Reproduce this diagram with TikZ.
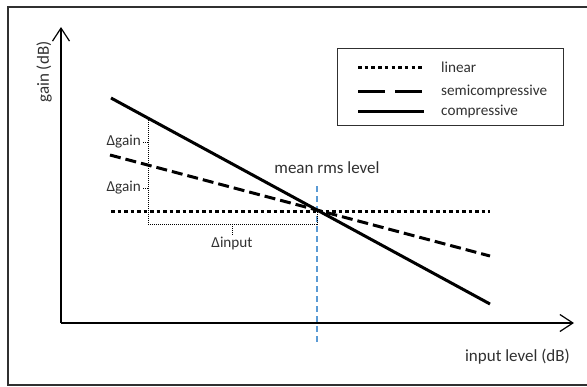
\documentclass[tikz,border=0pt]{standalone}
\usepackage{fontspec}
\setmainfont{Carlito}
\usetikzlibrary{arrows.meta}
\definecolor{txt}{HTML}{303030}
\definecolor{rmsblue}{HTML}{5B9BD5}
\tikzset{
 lbl/.style={font=\fontsize{15.2}{18}\selectfont, text=txt, inner sep=0pt},
 biglbl/.style={font=\fontsize{17}{20}\selectfont, text=txt, inner sep=0pt},
 axis/.style={line width=1.2pt, -{Straight Barb[length=13pt,width=17pt]}},
 linear/.style={line width=3pt, dash pattern=on 3.5pt off 3pt},
 semi/.style={line width=3pt, dash pattern=on 11pt off 5pt},
 comp/.style={line width=3pt},
 guide/.style={line width=0.8pt, dash pattern=on 1pt off 1pt},
 rms/.style={line width=1.5pt, rmsblue, dash pattern=on 6pt off 4pt},
}
\begin{document}
\begin{tikzpicture}[x=1pt,y=-1pt]
\clip (0,0) rectangle (587,386);
\draw[line width=2pt, draw=txt] (8,7) rectangle (600,385);
% axes
\coordinate (O) at (61,323);
\coordinate (ytop) at (61,27);
\coordinate (xend) at (574,323);
\draw[axis] (O) -- (ytop);
\draw[axis] (O) -- (xend);
\node[biglbl, rotate=90] (ylab) at (44,72) {gain (dB)};
\node[biglbl, anchor=east] (xlab) at (570,357) {input level (dB)};
% rms line
\coordinate (B1) at (317,186);
\coordinate (B2) at (317,342);
\draw[rms] (B1) -- (B2);
\node[biglbl] (rmslab) at (327,168) {mean rms level};
% curves
\coordinate (L1) at (111,211); \coordinate (L2) at (490,211);
\coordinate (S1) at (110,155); \coordinate (S2) at (490,256);
\coordinate (C1) at (111,98);  \coordinate (C2) at (490,304);
\coordinate (M) at (317,211);
\draw[linear] (L1) -- (L2);
\draw[semi] (S1) -- (S2);
\draw[comp] (C1) -- (C2);
% guides
\coordinate (G1) at (148,118);
\coordinate (G2) at (148,224);
\coordinate (G3) at (317,224);
\draw[guide] (G1) -- (G2) -- (G3) -- (M);
\node[lbl, anchor=east] (dg1) at (141,142) {Δgain};
\node[lbl, anchor=east] (dg2) at (141,188) {Δgain};
\coordinate (t1) at (148,142);
\coordinate (t2) at (148,188);
\draw[guide] ([xshift=2pt]dg1.east) -- (t1);
\draw[guide] ([xshift=2pt]dg2.east) -- (t2);
\node[lbl] (din) at (232,243) {Δinput};
\coordinate (t3) at (232,224);
\draw[guide] (t3) -- ([yshift=1pt]din.north);
% legend
\node[draw=txt, line width=1pt, minimum width=226pt, minimum height=77pt, inner sep=0pt] (leg) at (450,86.5) {};
\coordinate (la1) at (358,67);  \coordinate (la2) at (424,67);
\coordinate (lb1) at (358,91);  \coordinate (lb2) at (424,91);
\coordinate (lc1) at (358,111); \coordinate (lc2) at (424,111);
\draw[line width=3pt, dash pattern=on 3.5pt off 3.2pt] (la1) -- (la2);
\draw[line width=3pt, dash pattern=on 27pt off 10pt] (lb1) -- (lb2);
\draw[comp] (lc1) -- (lc2);
\node[lbl, anchor=west] (ta) at (441,67) {linear};
\node[lbl, anchor=west] (tb) at (441,91) {semicompressive};
\node[lbl, anchor=west] (tc) at (441,111) {compressive};
\end{tikzpicture}
\end{document}
